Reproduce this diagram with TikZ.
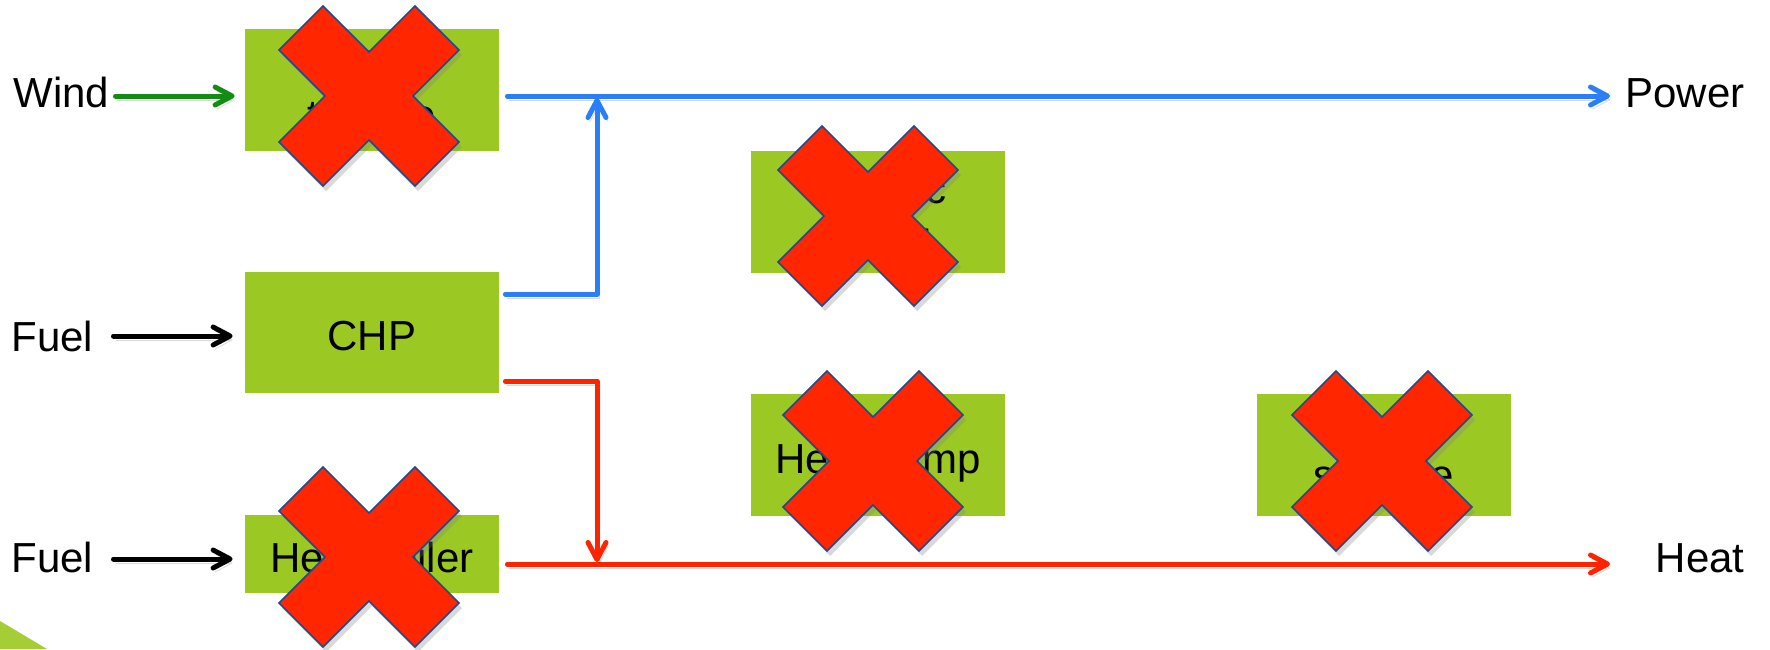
\documentclass[tikz,border=0pt]{standalone}
\usepackage{fontspec}
\setmainfont{Liberation Sans}
\usetikzlibrary{arrows.meta,shadows}

\definecolor{boxgreen}{HTML}{9CC824}
\definecolor{wedgegreen}{HTML}{A4CD36}
\definecolor{xred}{HTML}{FF2600}
\definecolor{xedge}{HTML}{1F4B8C}
\definecolor{powblue}{HTML}{2B7FF6}
\definecolor{heatred}{HTML}{FF2400}
\definecolor{windgreen}{HTML}{138C13}

\tikzset{
  unit/.style={fill=boxgreen, draw=none, minimum width=127pt, inner sep=0pt,
    align=center, font=\fontsize{21pt}{24pt}\selectfont},
  oneline/.style={text height=18pt, text depth=0pt},
  lbl/.style={inner sep=0pt, font=\fontsize{21pt}{24pt}\selectfont},
  flow/.style={line width=2.5pt, line cap=round, line join=round,
    -{Straight Barb[length=8.5pt,width=9pt,round]},
    preaction={draw=black, opacity=0.15, transform canvas={shift={(1pt,-2pt)}}}},
  xmark/.pic={
    \filldraw[fill=xred, draw=xedge, line width=0.8pt, line join=miter,
      drop shadow={shadow xshift=1.5pt, shadow yshift=-2.5pt, opacity=0.3}]
      (0,-44) -- (46,-90) -- (90,-46) -- (44,0) -- (90,46) -- (46,90)
      -- (0,44) -- (-46,90) -- (-90,46) -- (-44,0) -- (-90,-46) -- (-46,-90) -- cycle;
  }
}

\begin{document}
\begin{tikzpicture}[x=0.5pt, y=-0.5pt]
  \useasboundingbox (0,0) rectangle (1770,649);

  % corner wedge
  \fill[wedgegreen] (0,621) -- (47,649) -- (0,649) -- cycle;

  % units
  \node[unit, minimum height=61pt] (wt) at (372,90) {Wind\\turbine};
  \node[unit, oneline, minimum height=60.5pt] (chp) at (372,332.5) {CHP};
  \node[unit, oneline, minimum height=39pt] (hb) at (372,554) {Heat boiler};
  \node[unit, minimum height=61pt] (eb) at (878,212) {Electric\\boiler};
  \node[unit, oneline, minimum height=61pt] (hp) at (878,455) {Heat pump};
  \node[unit, minimum height=61pt] (st) at (1384,455) {Heat\\storage};

  % side labels
  \node[lbl, anchor=base west] (windlbl) at (13,107) {Wind};
  \node[lbl, anchor=base west] (fuel1) at (11,351) {Fuel};
  \node[lbl, anchor=base west] (fuel2) at (11,572) {Fuel};
  \node[lbl, anchor=base east] (powlbl) at (1745,107) {Power};
  \node[lbl, anchor=base east] (heatlbl) at (1745,572) {Heat};

  % flow rows and junction
  \coordinate (windrow) at (0,96);
  \coordinate (fuelrow1) at (0,336);
  \coordinate (fuelrow2) at (0,559);
  \coordinate (powrow) at (0,96);
  \coordinate (heatrow) at (0,564);
  \coordinate (chpup) at (0,294);
  \coordinate (chpdown) at (0,381);
  \coordinate (junc) at (597,0);
  \coordinate (powtip) at (1610,96);
  \coordinate (heattip) at (1610,564);

  % inputs
  \draw[flow, windgreen, shorten <=3pt, shorten >=5pt]
    (windlbl.east |- windrow) -- (wt.west |- windrow);
  \draw[flow, black, shorten <=10pt, shorten >=6pt]
    (fuel1.east |- fuelrow1) -- (chp.west |- fuelrow1);
  \draw[flow, black, shorten <=10pt, shorten >=6pt]
    (fuel2.east |- fuelrow2) -- (hb.west |- fuelrow2);

  % outputs
  \draw[flow, powblue, shorten <=4pt] (wt.east |- powrow) -- (powtip);
  \draw[flow, heatred, shorten <=4pt] (hb.east |- heatrow) -- (heattip);
  \draw[flow, powblue, shorten <=3pt, shorten >=1pt]
    (chp.east |- chpup) -| (junc |- powrow);
  \draw[flow, heatred, shorten <=3pt, shorten >=1pt]
    (chp.east |- chpdown) -| (junc |- heatrow);

  % crossed-out units
  \pic at (369,96) {xmark};
  \pic at (868,216) {xmark};
  \pic at (873,461) {xmark};
  \pic at (1382,461) {xmark};
  \pic at (369,557) {xmark};
\end{tikzpicture}
\end{document}
